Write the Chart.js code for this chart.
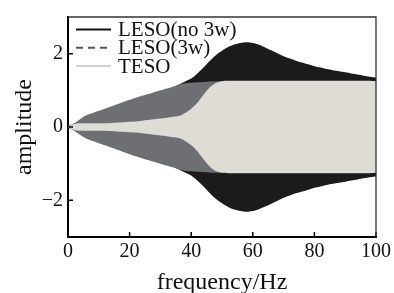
<!DOCTYPE html>
<html lang="en">
<head>
  <meta charset="UTF-8">
  <title>LESO / TESO amplitude</title>
  <script src="https://cdn.jsdelivr.net/npm/chart.js"></script>
  <style>
    body { margin: 0; background: #fff; }
    canvas { display: block; }
  </style>
</head>
<body>
  <canvas id="chartCanvas" width="394" height="293"></canvas>

  <script>
    // envelope of each signal, every 2 Hz
    const freq = [0, 2, 4, 6, 8, 10, 12, 14, 16, 18, 20, 22, 24, 26, 28, 30, 32, 34, 36, 38, 40,
      42, 44, 46, 48, 50, 52, 54, 56, 58, 60, 62, 64, 66, 68, 70, 72, 74, 76, 78, 80,
      82, 84, 86, 88, 90, 92, 94, 96, 98, 100];
    const lesoNo3w = [0.03, 0.09, 0.2, 0.3, 0.36, 0.42, 0.48, 0.54, 0.6, 0.66, 0.72, 0.78, 0.83, 0.88, 0.93, 0.98, 1.03, 1.08, 1.16, 1.24, 1.32,
      1.46, 1.62, 1.8, 1.96, 2.08, 2.18, 2.25, 2.29, 2.31, 2.29, 2.24, 2.17, 2.09, 2.01, 1.93, 1.87, 1.81, 1.76, 1.71, 1.66,
      1.62, 1.58, 1.55, 1.52, 1.49, 1.46, 1.43, 1.4, 1.37, 1.35];
    const leso3w = [0.03, 0.1, 0.22, 0.32, 0.38, 0.44, 0.5, 0.56, 0.62, 0.68, 0.74, 0.8, 0.85, 0.9, 0.95, 1.0, 1.05, 1.1, 1.15, 1.19, 1.21,
      1.22, 1.23, 1.24, 1.25, 1.25, 1.25, 1.25, 1.25, 1.25, 1.25, 1.25, 1.25, 1.25, 1.25, 1.25, 1.25, 1.25, 1.25, 1.25, 1.25,
      1.25, 1.25, 1.25, 1.25, 1.25, 1.25, 1.25, 1.25, 1.25, 1.25];
    const teso = [0.02, 0.08, 0.1, 0.1, 0.1, 0.1, 0.1, 0.11, 0.12, 0.13, 0.14, 0.15, 0.17, 0.19, 0.21, 0.23, 0.25, 0.28, 0.3, 0.38, 0.5,
      0.66, 0.88, 1.08, 1.2, 1.25, 1.26, 1.26, 1.26, 1.26, 1.26, 1.26, 1.26, 1.26, 1.26, 1.26, 1.26, 1.26, 1.26, 1.26, 1.26,
      1.26, 1.26, 1.26, 1.26, 1.26, 1.26, 1.26, 1.26, 1.26, 1.25];
    const xTicks = [0, 20, 40, 60, 80, 100];
    const yTicks = [-2, 0, 2];

    const serif = '"Liberation Serif", "Times New Roman", serif';

    const series = [
      { label: 'LESO(no 3w)', values: lesoNo3w, fill: '#1b1b1b', line: '#111', dash: [] },
      { label: 'LESO(3w)', values: leso3w, fill: '#6e6f73', line: '#555', dash: [7, 5] },
      { label: 'TESO', values: teso, fill: '#dfdbd5', line: '#d6d2cb', dash: [] }
    ];

    // upper/lower envelope pairs, TESO first so it is painted on top
    const datasets = [];
    series.slice().reverse().forEach(s => {
      const common = { borderWidth: 0, pointRadius: 0, tension: 0.3, backgroundColor: s.fill };
      datasets.push(Object.assign({ data: freq.map((f, i) => ({ x: f, y: s.values[i] })), fill: '+1' }, common));
      datasets.push(Object.assign({ data: freq.map((f, i) => ({ x: f, y: -s.values[i] })), fill: false }, common));
    });

    // inward ticks, top/right frame and the legend inside the plot
    const framePlugin = {
      id: 'frame',
      afterDraw(chart) {
        const { ctx, chartArea: a, scales } = chart;
        ctx.save();
        ctx.strokeStyle = '#000';
        ctx.lineWidth = 1.5;
        ctx.beginPath();
        scales.x.ticks.forEach(t => {
          const px = scales.x.getPixelForValue(t.value);
          ctx.moveTo(px, a.bottom);
          ctx.lineTo(px, a.bottom - 5);
        });
        scales.y.ticks.forEach(t => {
          const py = scales.y.getPixelForValue(t.value);
          ctx.moveTo(a.left, py);
          ctx.lineTo(a.left + 5, py);
        });
        ctx.stroke();

        ctx.strokeStyle = '#333';
        ctx.lineWidth = 1.3;
        ctx.beginPath();
        ctx.moveTo(a.left, a.top);
        ctx.lineTo(a.right, a.top);
        ctx.lineTo(a.right, a.bottom);
        ctx.stroke();

        ctx.font = '21px ' + serif;
        ctx.textBaseline = 'alphabetic';
        series.forEach((s, i) => {
          const base = a.top + 19 + i * 18.3;
          ctx.strokeStyle = s.line;
          ctx.lineWidth = 2;
          ctx.setLineDash(s.dash);
          ctx.beginPath();
          ctx.moveTo(a.left + 8, base - 6.5);
          ctx.lineTo(a.left + 43, base - 6.5);
          ctx.stroke();
          ctx.setLineDash([]);
          ctx.fillStyle = '#111';
          ctx.fillText(s.label, a.left + 50, base);
        });
        ctx.restore();
      }
    };

    const ctx = document.getElementById('chartCanvas').getContext('2d');
    new Chart(ctx, {
      type: 'line',
      data: { datasets: datasets },
      options: {
        responsive: false,
        animation: false,
        layout: { padding: { top: 10, right: 16, left: 0, bottom: 0 } },
        plugins: { legend: { display: false }, tooltip: { enabled: false } },
        scales: {
          x: {
            type: 'linear',
            min: 0,
            max: 100,
            afterBuildTicks: scale => { scale.ticks = xTicks.map(v => ({ value: v })); },
            afterFit: scale => { scale.height = 56; },
            grid: { display: false, drawTicks: false },
            border: { display: true, color: '#000', width: 2 },
            ticks: { padding: 3, color: '#111', maxRotation: 0, font: { family: serif, size: 20 } },
            title: {
              display: true,
              text: 'frequency/Hz',
              color: '#111',
              font: { family: serif, size: 24, lineHeight: 1 },
              padding: { top: 0, bottom: -1.8 }
            }
          },
          y: {
            min: -3,
            max: 3,
            afterBuildTicks: scale => { scale.ticks = yTicks.map(v => ({ value: v })); },
            afterFit: scale => { scale.width = 68; },
            grid: { display: false, drawTicks: false },
            border: { display: true, color: '#000', width: 2 },
            ticks: {
              padding: 5,
              color: '#111',
              font: { family: serif, size: 20 },
              callback: v => String(v).replace('-', '\u2212')
            },
            title: {
              display: true,
              text: 'amplitude',
              color: '#111',
              font: { family: serif, size: 24, lineHeight: 1 },
              padding: { top: 12.5, bottom: 0 }
            }
          }
        }
      },
      plugins: [framePlugin]
    });
  </script>
</body>
</html>
